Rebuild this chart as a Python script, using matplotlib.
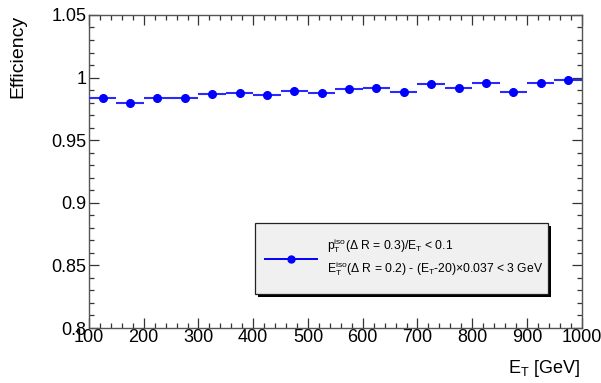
import matplotlib
matplotlib.use("Agg")
import matplotlib.pyplot as plt
from matplotlib.ticker import MultipleLocator
from matplotlib.patches import Rectangle
from matplotlib.lines import Line2D

plt.rcParams["font.family"] = ["Liberation Sans", "DejaVu Sans"]
plt.rcParams["mathtext.fontset"] = "custom"
plt.rcParams["mathtext.rm"] = "Liberation Sans"
plt.rcParams["mathtext.it"] = "Liberation Sans"

# bin centres (GeV), bin half width, efficiency and errors
et_centers = [125, 175, 225, 275, 325, 375, 425, 475, 525,
              575, 625, 675, 725, 775, 825, 875, 925, 975]
bin_half = 25
efficiency = [0.9840, 0.9800, 0.9840, 0.9835, 0.9865, 0.9875, 0.9862, 0.9890, 0.9880,
              0.9905, 0.9918, 0.9885, 0.9950, 0.9918, 0.9955, 0.9885, 0.9955, 0.9980]
eff_err = [0.0008, 0.0008, 0.0008, 0.0008, 0.0008, 0.0008, 0.0008, 0.0009, 0.0009,
           0.0010, 0.0010, 0.0012, 0.0010, 0.0012, 0.0010, 0.0025, 0.0010, 0.0010]

legend_lines = [r"p$_{\mathrm{T}}^{\mathrm{iso}}$($\Delta$ R = 0.3)/E$_{\mathrm{T}}$ < 0.1",
                r"E$_{\mathrm{T}}^{\mathrm{iso}}$($\Delta$ R = 0.2) - (E$_{\mathrm{T}}$-20)$\times$0.037 < 3 GeV"]

fig = plt.figure(figsize=(6.01, 3.83), dpi=100)
ax = fig.add_axes([0.148, 0.1436, 0.820, 0.8174])

ax.errorbar(et_centers, efficiency, xerr=bin_half, yerr=eff_err,
            fmt="o", color="#0000ff", ecolor="#2a2aff", markersize=5.5, elinewidth=1.5,
            capsize=0, zorder=3)

ax.set_xlim(100, 1000)
ax.set_ylim(0.8, 1.05)
ax.xaxis.set_major_locator(MultipleLocator(100))
ax.xaxis.set_minor_locator(MultipleLocator(20))
ax.yaxis.set_major_locator(MultipleLocator(0.05))
ax.yaxis.set_minor_locator(MultipleLocator(0.01))
ax.set_yticks([0.8, 0.85, 0.9, 0.95, 1.0, 1.05])
ax.set_yticklabels(["0.8", "0.85", "0.9", "0.95", "1", "1.05"])

ax.tick_params(which="both", direction="in", top=True, right=True,
               labelsize=13, color="#333333")
ax.tick_params(axis="x", which="major", pad=1)
ax.tick_params(axis="y", which="major", pad=2)
ax.tick_params(which="major", length=7, width=0.9)
ax.tick_params(which="minor", length=3.8, width=0.9)
for sp in ax.spines.values():
    sp.set_color("#555555")
    sp.set_linewidth(1.0)

fig.text(0.030, 0.961, "Efficiency", rotation=90, ha="center", va="top", fontsize=14)
fig.text(0.966, 0.039, r"E$_{\mathrm{T}}$ [GeV]", ha="right", va="center", fontsize=13)

# legend box with shadow (ROOT style)
lx0, ly0, lw, lh = 0.337, 0.109, 0.594, 0.226
ax.add_patch(Rectangle((lx0 + 0.006, ly0 - 0.009), lw, lh, transform=ax.transAxes,
                       facecolor="black", edgecolor="none", zorder=4))
ax.add_patch(Rectangle((lx0, ly0), lw, lh, transform=ax.transAxes,
                       facecolor="#f0f0f0", edgecolor="#222222", linewidth=0.9, zorder=5))
ax.add_line(Line2D([lx0 + 0.020, lx0 + 0.125], [ly0 + lh / 2, ly0 + lh / 2],
                   transform=ax.transAxes, color="#0000ff", linewidth=1.4, zorder=6))
ax.add_line(Line2D([lx0 + 0.0725], [ly0 + lh / 2], transform=ax.transAxes,
                   marker="o", markersize=5, color="#0000ff", zorder=6))
ax.text(lx0 + 0.146, ly0 + lh * 0.68, legend_lines[0], transform=ax.transAxes,
        ha="left", va="center", fontsize=8.7, zorder=6)
ax.text(lx0 + 0.146, ly0 + lh * 0.35, legend_lines[1], transform=ax.transAxes,
        ha="left", va="center", fontsize=8.7, zorder=6)

fig.savefig("out.png", dpi=100)
plt.close(fig)
